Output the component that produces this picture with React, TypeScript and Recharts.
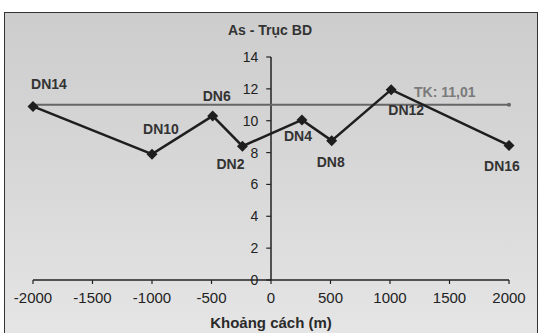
import {
    ComposedChart,
    Line,
    XAxis,
    YAxis,
    ReferenceLine,
    ReferenceDot,
    LabelList
} from "recharts";

// measurement stations along the BD axis
const stations = ["DN14", "DN10", "DN6", "DN2", "DN4", "DN8", "DN12", "DN16"];
const distances = [-2000, -1000, -490, -240, 260, 510, 1010, 2000];
const asValues = [10.9, 7.9, 10.3, 8.4, 10.05, 8.75, 11.95, 8.45];

// design value (TK)
const tkValue = 11.01;
const tkLabel = "TK: 11,01";

const xTicks = [-2000, -1500, -1000, -500, 0, 500, 1000, 1500, 2000];
const yTicks = [0, 2, 4, 6, 8, 10, 12, 14];

const points = stations.map((name, i) => ({ name, x: distances[i], y: asValues[i] }));
const tkLine = [
    { x: -2000, y: tkValue },
    { x: 2000, y: tkValue }
];

// where each station name sits relative to its marker
const labelOffsets: Record<string, [number, number]> = {
    DN14: [16, -22],
    DN10: [9, -25],
    DN6: [4, -20],
    DN2: [-12, 18],
    DN4: [-4, 16],
    DN8: [-1, 21],
    DN12: [15, 20],
    DN16: [-7, 21]
};

const FONT = "'Liberation Sans', Arial, sans-serif";

const Diamond = (props: any) => {
    const { cx, cy } = props;
    if (cx == null || cy == null) return null;
    const r = 5.5;
    return (
        <polygon
            points={`${cx},${cy - r} ${cx + r},${cy} ${cx},${cy + r} ${cx - r},${cy}`}
            fill="#1e1e1e"
        />
    );
};

const StationLabel = (props: any) => {
    const { x, y, value } = props;
    const [dx, dy] = labelOffsets[value] || [0, -14];
    return (
        <text
            x={x + dx}
            y={y + dy}
            textAnchor="middle"
            dominantBaseline="central"
            fontFamily={FONT}
            fontSize={14}
            fontWeight="bold"
            fill="#333"
        >
            {value}
        </text>
    );
};

export default function App() {
    return (
        <div style={{ position: "absolute", left: 0, top: 0, width: 549, height: 333, overflow: "hidden", background: "#fff" }}>
            <div
                style={{
                    position: "absolute",
                    left: 4,
                    top: 12,
                    width: 532,
                    height: 330,
                    border: "1.5px solid #333",
                    background: "linear-gradient(#cdcdcd, #d9d9d9 55%, #e6e6e6)"
                }}
            />
            <div
                style={{
                    position: "absolute",
                    left: 170,
                    width: 200,
                    top: 22,
                    textAlign: "center",
                    fontFamily: FONT,
                    fontSize: 14,
                    fontWeight: "bold",
                    color: "#333"
                }}
            >
                As - Trục BD
            </div>
            <div
                style={{
                    position: "absolute",
                    left: 171,
                    width: 200,
                    top: 314,
                    textAlign: "center",
                    fontFamily: FONT,
                    fontSize: 15,
                    fontWeight: "bold",
                    color: "#2a2a2a"
                }}
            >
                Khoảng cách (m)
            </div>
            <div style={{ position: "absolute", left: 0, top: 0 }}>
                <ComposedChart width={549} height={333} margin={{ top: 57, right: 40, bottom: 0, left: 33 }}>
                    <XAxis
                        type="number"
                        dataKey="x"
                        domain={[-2000, 2000]}
                        ticks={xTicks}
                        interval={0}
                        height={53}
                        tickSize={4}
                        tickMargin={8}
                        axisLine={{ stroke: "#222", strokeWidth: 1.5 }}
                        tickLine={{ stroke: "#222", strokeWidth: 1.2 }}
                        tick={{ fontFamily: FONT, fontSize: 15, fill: "#222" }}
                    />
                    <YAxis type="number" domain={[0, 14]} hide width={0} />

                    {/* vertical axis crossing at distance 0 */}
                    <ReferenceLine
                        segment={[{ x: 0, y: 0 }, { x: 0, y: 14 }]}
                        stroke="#222"
                        strokeWidth={1.5}
                    />
                    {yTicks.map((v) => (
                        <ReferenceLine
                            key={`t${v}`}
                            segment={[{ x: -40, y: v }, { x: 0, y: v }]}
                            stroke="#222"
                            strokeWidth={1.2}
                        />
                    ))}
                    {yTicks.map((v) => (
                        <ReferenceDot
                            key={`l${v}`}
                            x={-40}
                            y={v}
                            r={0}
                            fill="none"
                            stroke="none"
                            label={{
                                value: v,
                                position: "left",
                                offset: 8,
                                fontFamily: FONT,
                                fontSize: 14,
                                fill: "#222"
                            }}
                        />
                    ))}

                    <Line
                        data={tkLine}
                        dataKey="y"
                        stroke="#666"
                        strokeWidth={2}
                        dot={{ r: 2, fill: "#666", stroke: "none" }}
                        isAnimationActive={false}
                    />
                    <ReferenceDot
                        x={1460}
                        y={tkValue}
                        r={0}
                        fill="none"
                        stroke="none"
                        label={{
                            value: tkLabel,
                            position: "top",
                            offset: 8,
                            fontFamily: FONT,
                            fontSize: 14,
                            fontWeight: "bold",
                            fill: "#7a7a7a"
                        }}
                    />

                    <Line
                        data={points}
                        dataKey="y"
                        stroke="#1e1e1e"
                        strokeWidth={2.5}
                        dot={<Diamond />}
                        activeDot={false}
                        isAnimationActive={false}
                    >
                        <LabelList dataKey="name" content={<StationLabel />} />
                    </Line>
                </ComposedChart>
            </div>
        </div>
    );
}
